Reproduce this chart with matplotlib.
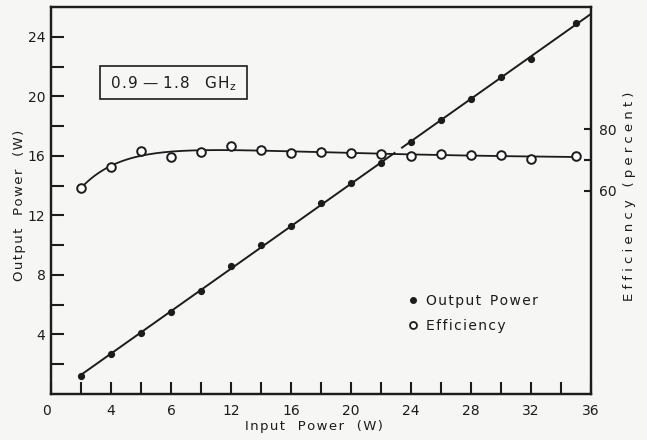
import numpy as np
import matplotlib
matplotlib.use("Agg")
import matplotlib.pyplot as plt
from matplotlib.patches import Rectangle

# Input drive power (W)
input_power = [2, 4, 6, 8, 10, 12, 14, 16, 18, 20, 22, 24, 26, 28, 30, 32, 35]
# Output power (W)
output_power = [1.2, 2.7, 4.1, 5.5, 6.9, 8.6, 10.0, 11.3, 12.8, 14.2, 15.5,
                16.9, 18.4, 19.8, 21.3, 22.5, 24.9]
# Efficiency (percent)
efficiency = [60.9, 67.7, 72.9, 71.0, 72.6, 74.6, 73.3, 72.3, 72.6, 72.3, 72.0,
              71.3, 72.0, 71.6, 71.6, 70.3, 71.3]

x_tick_pos = [0, 4, 8, 12, 16, 20, 24, 28, 32, 36]
x_tick_labels = ["0", "4", "6", "12", "16", "20", "24", "28", "32", "36"]
y_tick_pos = [4, 8, 12, 16, 20, 24]
eff_tick_pos = [60, 70, 80]
eff_tick_labels = ["60", "", "80"]

INK = "#1c1c1c"
PAPER = "#f6f6f4"
HS = "\u200a"


def spaced(s):
    return HS.join(s)


plt.rcParams["font.family"] = ["DejaVu Sans"]

fig = plt.figure(figsize=(6.47, 4.40), dpi=100, facecolor=PAPER)
ax = fig.add_axes([51 / 647, 46 / 440, 540 / 647, 387 / 440])
ax.set_facecolor(PAPER)
ax.set_xlim(0, 36)
ax.set_ylim(0, 26)

ax2 = ax.twinx()
ax2.set_ylim(-6.2, 119.8)

for a in (ax, ax2):
    for sp in a.spines.values():
        sp.set_linewidth(1.6)
        sp.set_color(INK)

# Output power: linear fit drawn with a break where it crosses the efficiency curve
x = np.array(input_power, dtype=float)
y = np.array(output_power, dtype=float)
slope, icpt = np.polyfit(x, y, 1)
gap_lo, gap_hi = 22.9, 23.4
xa = np.linspace(x[0], gap_lo, 50)
xb = np.linspace(gap_hi, 36, 50)
ax.plot(xa, slope * xa + icpt, color=INK, lw=1.4, zorder=3)
ax.plot(xb, slope * xb + icpt, color=INK, lw=1.4, zorder=3)
ax.plot(x, y, "o", ms=4.2, color=INK, zorder=4)

# Efficiency: smooth saturating curve fitted through the points
e = np.array(efficiency, dtype=float)
best = None
for c in np.linspace(0.5, 8, 300):
    A = np.column_stack([np.ones_like(x), np.exp(-(x - x[0]) / c), x, x ** 2])
    coef, res, *_ = np.linalg.lstsq(A, e, rcond=None)
    r = np.sum((A @ coef - e) ** 2)
    if best is None or r < best[0]:
        best = (r, c, coef)
_, c, coef = best
xs = np.linspace(x[0], x[-1], 300)
As = np.column_stack([np.ones_like(xs), np.exp(-(xs - x[0]) / c), xs, xs ** 2])
ax2.plot(xs, As @ coef, color=INK, lw=1.3, zorder=3)
ax2.plot(x, e, "o", ms=6.2, mfc="white", mec=INK, mew=1.4, zorder=4)

# Ticks
ax.set_xticks(x_tick_pos)
ax.set_xticklabels(x_tick_labels)
ax.set_xticks(np.arange(2, 36, 4), minor=True)
ax.set_yticks(y_tick_pos)
ax.set_yticks(np.arange(2, 26, 4), minor=True)
ax.tick_params(which="both", direction="in", length=9, width=1.5, color=INK,
               labelsize=10, labelcolor=INK, top=False, right=False)
ax.tick_params(axis="x", pad=7)
ax.tick_params(axis="y", pad=4)
ax.get_xticklabels()[0].set_horizontalalignment("right")
ax2.set_yticks(eff_tick_pos)
ax2.set_yticklabels(eff_tick_labels)
ax2.tick_params(direction="in", length=5, width=1.5, color=INK, labelsize=10,
                labelcolor=INK, pad=6)

# Axis titles
ax.set_xlabel(spaced("Input") + "   " + spaced("Power") + "   " + spaced("(W)"),
              fontsize=9.5, color=INK)
ax.xaxis.set_label_coords(0.487, -0.066)
ax.set_ylabel(spaced("Output") + "   " + spaced("Power") + "   " + spaced("(W)"),
              fontsize=9.5, color=INK)
ax.yaxis.set_label_coords(-0.047, 0.488)
ax2.set_ylabel(HS.join(spaced("Efficiency")) + "   " + HS.join(spaced("(percent)")),
               fontsize=9.5, color=INK, rotation=90)
ax2.yaxis.set_label_coords(1.06, 0.51)

# Frequency band box
ax.add_patch(Rectangle(((100 - 51) / 540, (394 - 99) / 387), 147 / 540, 33 / 387,
                       transform=ax.transAxes, fill=True, fc=PAPER, ec=INK,
                       lw=1.2, zorder=5))
ax.text(0.226, 0.803, spaced("0.9") + " \u2014 " + spaced("1.8") + "   " + "G" + HS + r"H$_\mathregular{z}$",
        transform=ax.transAxes, ha="center", va="center", fontsize=11,
        color=INK, zorder=6)

# Legend
h1 = ax.plot([], [], "o", ms=4, color=INK, label=spaced("Output") + "  " + spaced("Power"))[0]
h2 = ax.plot([], [], "o", ms=5, mfc="white", mec=INK, mew=1.3, label=spaced("Efficiency"))[0]
leg = ax.legend(handles=[h1, h2], loc="upper left", bbox_to_anchor=(0.64, 0.29),
                frameon=False, handlelength=0.6, handletextpad=0.6,
                labelspacing=0.75, fontsize=10)
for t in leg.get_texts():
    t.set_color(INK)

fig.savefig("out.png", dpi=100, facecolor=PAPER)
